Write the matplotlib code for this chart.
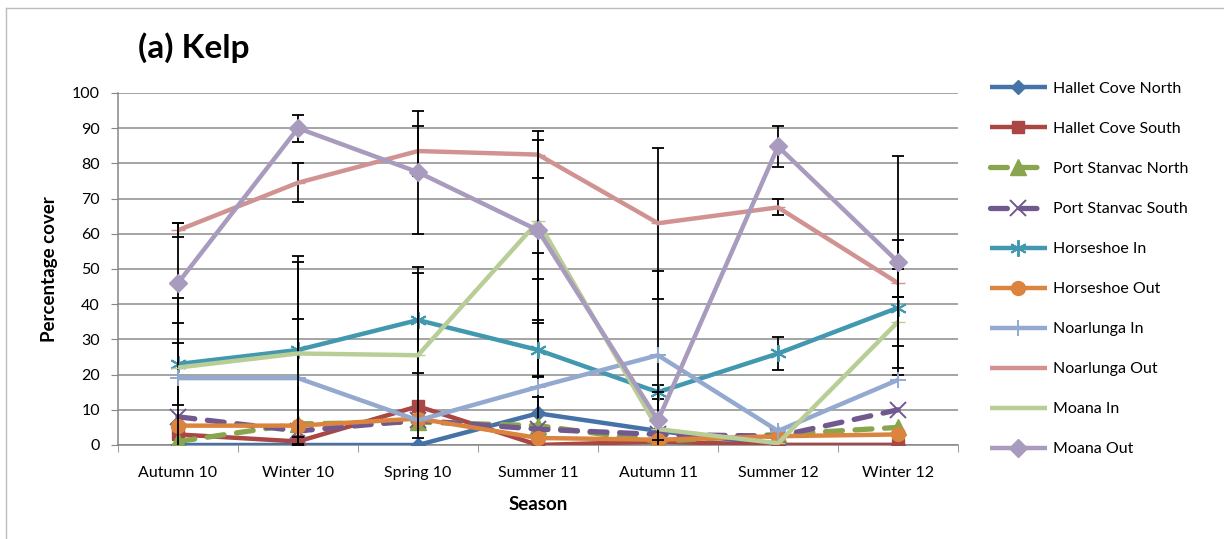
"""Seasonal kelp percentage cover at each reef site, with error bars."""
import numpy as np
import matplotlib

matplotlib.use("Agg")
import matplotlib.pyplot as plt
from matplotlib.lines import Line2D

plt.rcParams["font.family"] = ["Lato", "DejaVu Sans"]

seasons = ["Autumn 10", "Winter 10", "Spring 10", "Summer 11",
           "Autumn 11", "Summer 12", "Winter 12"]

sites = ["Hallet Cove North", "Hallet Cove South", "Port Stanvac North",
         "Port Stanvac South", "Horseshoe In", "Horseshoe Out",
         "Noarlunga In", "Noarlunga Out", "Moana In", "Moana Out"]

hallet_north = [0, 0, 0, 9, 4, 0, 0]
hallet_south = [3, 1, 11, 0, 1, 0, 0]
stanvac_north = [1, 6, 6.5, 5.5, 1, 3, 5]
stanvac_south = [8, 4, 7, 4.5, 3, 2.5, 10]
horseshoe_in = [23, 27, 35.5, 27, 15, 26, 39]
horseshoe_out = [5.5, 5.5, 7.5, 2, 1.5, 2.5, 3]
noarlunga_in = [19, 19, 7, 16.5, 25.5, 4, 18.5]
noarlunga_out = [61, 74.5, 83.5, 82.5, 63, 67.5, 46]
moana_in = [22, 26, 25.5, 63.5, 4.5, 0.5, 35]
moana_out = [46, 90, 77.5, 61, 7, 84.8, 52]

# standard errors (None = no bar drawn)
hallet_north_err = [None, None, None, 38.2, None, None, None]
hallet_south_err = [None] * 7
stanvac_north_err = [None, None, None, 49, None, None, None]
stanvac_south_err = [None] * 7
horseshoe_in_err = [11.6, 26.7, 15, 7.7, 2, 4.7, 19.2]
horseshoe_out_err = [None] * 7
noarlunga_in_err = [22.7, 16.8, None, 3, 24, None, None]
noarlunga_out_err = [2, 5.5, 7, 6.7, 21.4, 2.3, 4]
moana_in_err = [None, 26, 23.4, None, None, None, 7]
moana_out_err = [17, 3.8, 17.5, 25.6, 8, 5.8, 30]

values = [hallet_north, hallet_south, stanvac_north, stanvac_south,
          horseshoe_in, horseshoe_out, noarlunga_in, noarlunga_out,
          moana_in, moana_out]
errors = [hallet_north_err, hallet_south_err, stanvac_north_err,
          stanvac_south_err, horseshoe_in_err, horseshoe_out_err,
          noarlunga_in_err, noarlunga_out_err, moana_in_err, moana_out_err]

colors = ["#4572A7", "#AA4643", "#89A54E", "#71588F", "#4198AF",
          "#DB843D", "#93A9CF", "#D19392", "#B9CD96", "#A99BBD"]
markers = ["D", "s", "^", "x", (6, 2, 0), "o", "+", "_", "_", "D"]
msizes = [7, 9, 11, 12, 12, 10, 12, 10, 10, 9]
dashed = [False, False, True, True, False, False, False, False, False, False]

fig = plt.figure(figsize=(12.24, 5.39), dpi=100)
ax = fig.add_axes([0.0964, 0.1744, 0.6863, 0.6531])

x = np.arange(len(seasons))
for vals, errs, col, mk, ms, dsh, name in zip(values, errors, colors, markers,
                                              msizes, dashed, sites):
    vals = np.array(vals, dtype=float)
    err = np.array([np.nan if e is None else e for e in errs], dtype=float)
    ok = ~np.isnan(err)
    if ok.any():
        ax.errorbar(x[ok], vals[ok], yerr=err[ok], fmt="none", ecolor="black",
                    elinewidth=1.3, capsize=4.5, capthick=1.3, zorder=3)
    style = dict(color=col, lw=3.2, marker=mk, ms=ms, mfc=col, mec=col,
                 label=name, zorder=3, solid_capstyle="butt")
    if mk in ("x", "+", (6, 2, 0)):
        style["mew"] = 1.4
    if dsh:
        style.update(ls=(0, (3.2, 2.4)), dash_capstyle="round", lw=3.8)
    ax.plot(x, vals, **style)

ax.set_xlim(-0.5, len(seasons) - 0.5)
ax.set_ylim(0, 100)
ax.set_yticks(range(0, 101, 10))
ax.set_xticks(x)
ax.set_xticklabels(seasons)
ax.set_xticks(np.arange(-0.5, len(seasons), 1), minor=True)
ax.tick_params(axis="x", which="major", length=0, pad=15, labelsize=11.5)
ax.tick_params(axis="x", which="minor", length=5, color="#868686", direction="out")
ax.tick_params(axis="y", length=5, color="#868686", labelsize=11.5, pad=8)
ax.yaxis.grid(True, color="#8c8c8c", lw=1.1)
ax.set_axisbelow(True)
for side in ("top", "right"):
    ax.spines[side].set_visible(False)
for side in ("left", "bottom"):
    ax.spines[side].set_color("#868686")
    ax.spines[side].set_linewidth(1.1)

ax.set_ylabel("Percentage cover", fontsize=13.5, fontweight="bold", labelpad=10)
ax.set_xlabel("Season", fontsize=13.5, fontweight="bold", labelpad=12)
fig.text(0.113, 0.912, "(a) Kelp", fontsize=24, fontweight="bold", va="center")

ax.legend(loc="upper left", bbox_to_anchor=(1.03, 1.05), frameon=False,
          fontsize=11.5, handlelength=3.6, handletextpad=0.35,
          labelspacing=1.62, borderaxespad=0)

# chart area frame: only the left and top edges show
frame = dict(transform=fig.transFigure, color="#bcbcbc", lw=1.0)
fig.lines.append(Line2D([0.0045, 0.0045], [0.0, 0.985], **frame))
fig.lines.append(Line2D([0.0045, 1.0], [0.985, 0.985], **frame))

fig.savefig("out.png", dpi=100)
